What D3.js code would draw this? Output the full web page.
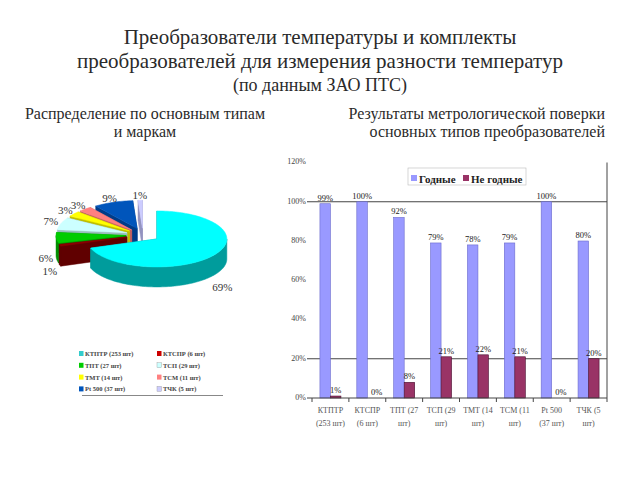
<!DOCTYPE html>
<html><head><meta charset="utf-8">
<script src="https://cdn.jsdelivr.net/npm/d3@7"></script>
<style>body{margin:0;background:#fff}svg{display:block}</style>
</head><body>
<svg id="c" width="640" height="480" font-family="'Liberation Serif', 'Times New Roman', Tinos, 'DejaVu Serif', serif"></svg>
<script>
// ---- data ----
const pieCategories = ["КТПТР (253 шт)","КТСПР (6 шт)","ТПТ (27 шт)","ТСП (29 шт)","ТМТ (14 шт)","ТСМ (11 шт)","Pt 500 (37 шт)","ТЧК (5 шт)"];
const piePercents = [69, 1, 6, 7, 3, 3, 9, 1];
const pieTopColors = ["#00FFFF","#8B0000","#00CC00","#CCFFFF","#FFFF00","#FF8080","#0055BB","#CCCCFF"];
const pieSideColors = ["#009C9C","#600000","#008F00","#99BDBD","#BFBF00","#C06060","#003C88","#9393C0"];
const pieLegendColors = ["#33CCCC","#CC0000","#00CC00","#CCFFFF","#FFFF00","#FF8080","#0055BB","#CCCCFF"];

const barCategories = [["КТПТР","(253 шт)"],["КТСПР","(6 шт)"],["ТПТ (27","шт)"],["ТСП (29","шт)"],["ТМТ (14","шт)"],["ТСМ (11","шт)"],["Pt 500","(37 шт)"],["ТЧК (5","шт)"]];
const goodValues = [99, 100, 92, 79, 78, 79, 100, 80];
const badValues  = [1, 0, 8, 21, 22, 21, 0, 20];
const seriesNames = ["Годные","Не годные"];
const seriesColors = ["#9999FF","#993366"];
const yTicks = [0, 20, 40, 60, 80, 100, 120];

const svg = d3.select("#c");

// ---- titles ----
const T = svg.append("g").attr("fill","#2a2a2a");
T.append("text").attr("x",320).attr("y",44).attr("text-anchor","middle").attr("font-size",21).text("Преобразователи температуры и комплекты");
T.append("text").attr("x",320).attr("y",68).attr("text-anchor","middle").attr("font-size",21).text("преобразователей для измерения разности температур");
T.append("text").attr("x",320).attr("y",91).attr("text-anchor","middle").attr("font-size",18).text("(по данным ЗАО ПТС)");
T.append("text").attr("x",145).attr("y",119).attr("text-anchor","middle").attr("font-size",16).text("Распределение по основным типам");
T.append("text").attr("x",145).attr("y",137).attr("text-anchor","middle").attr("font-size",16).text("и маркам");
T.append("text").attr("x",605).attr("y",119).attr("text-anchor","end").attr("font-size",16).text("Результаты метрологической поверки");
T.append("text").attr("x",605).attr("y",137).attr("text-anchor","end").attr("font-size",16).text("основных типов преобразователей");

// ---- 3D pie ----
const CX = 143, CY = 235, RX = 70, RY = 28, DEPTH = 20, EXPL = 17, K = RY / RX;
const arcs = d3.pie().sort(null).startAngle(0).endAngle(2*Math.PI)(piePercents);
const P = (c, a, dy=0) => [c[0] + RX*Math.sin(a), c[1] - RY*Math.cos(a) + dy];
function arcPts(c, a0, a1, dy=0){
  const n = Math.max(2, Math.ceil(Math.abs(a1-a0)/0.03));
  return d3.range(n+1).map(i => P(c, a0 + (a1-a0)*i/n, dy));
}
const line = d3.line();
const slices = arcs.map((d,i) => {
  const m = (d.startAngle + d.endAngle)/2;
  const c = [CX + EXPL*Math.sin(m), CY - EXPL*Math.cos(m)*K];
  return {d, i, m, c};
});
const pieG = svg.append("g");
slices.slice().sort((a,b) => a.c[1] - b.c[1]).forEach(s => {
  const g = pieG.append("g");
  const {d, i, c} = s;
  const side = pieSideColors[i], top = pieTopColors[i];
  [d.startAngle, d.endAngle].forEach(a => {
    const p = P(c, a);
    g.append("path").attr("d", line([c, p, [p[0], p[1]+DEPTH], [c[0], c[1]+DEPTH]]) + "Z")
      .attr("fill", side).attr("stroke", side).attr("stroke-width", 0.5);
  });
  const s0 = Math.max(d.startAngle, Math.PI/2), s1 = Math.min(d.endAngle, 3*Math.PI/2);
  if (s1 > s0) {
    const pts = arcPts(c, s0, s1).concat(arcPts(c, s1, s0, DEPTH));
    g.append("path").attr("d", line(pts) + "Z").attr("fill", side).attr("stroke", side).attr("stroke-width", 0.5);
  }
  g.append("path").attr("d", line([c].concat(arcPts(c, d.startAngle, d.endAngle))) + "Z")
    .attr("fill", top).attr("stroke", top).attr("stroke-width", 0.5);
});
slices.forEach(s => {
  const cm = Math.cos(s.m);
  const x = s.c[0] + 1.15*RX*Math.sin(s.m);
  const y = s.c[1] - 1.12*RY*cm + (cm < 0 ? DEPTH + 20*(-cm) : 0);
  pieG.append("text").attr("x", x).attr("y", y).attr("text-anchor","middle").attr("dominant-baseline","middle")
    .attr("font-size", 11).attr("fill","#333").text(piePercents[s.i] + "%");
});
// pie legend
const lg = svg.append("g");
pieCategories.forEach((name, i) => {
  const col = i % 2, row = Math.floor(i / 2);
  const x = col === 0 ? 79 : 157, y = 354 + row * 11.8;
  lg.append("rect").attr("x", x).attr("y", y - 3).attr("width", 4.5).attr("height", 5)
    .attr("fill", pieLegendColors[i]).attr("stroke", i===3||i===7 ? "#999" : "none").attr("stroke-width",0.4);
  lg.append("text").attr("x", x + 6).attr("y", y + 2).attr("font-size", 6.5).attr("font-weight","bold").attr("fill","#444").text(name);
});
lg.append("line").attr("x1",82).attr("x2",223).attr("y1",395.5).attr("y2",395.5).attr("stroke","#888").attr("stroke-width",1);

// ---- bar chart ----
const L = 312, R = 607, Y0 = 398, YT = 162.5;
const x0 = d3.scaleBand().domain(d3.range(barCategories.length)).range([L, R]).padding(0);
const bw = x0.bandwidth() * 0.285;
const y = d3.scaleLinear().domain([0, 120]).range([Y0, YT]);
const bg = svg.append("g");
[20, 100].forEach(v => bg.append("line").attr("x1", L - 5).attr("x2", R).attr("y1", y(v)).attr("y2", y(v)).attr("stroke","#444").attr("stroke-width",1));
bg.append("line").attr("x1", R).attr("x2", R).attr("y1", YT).attr("y2", Y0).attr("stroke","#444");
yTicks.forEach(v => bg.append("text").attr("x", 306).attr("y", y(v)).attr("dominant-baseline","middle").attr("text-anchor","end")
  .attr("font-size", 8).attr("fill","#444").text(v + "%"));
const series = [goodValues, badValues];
series.forEach((vals, si) => {
  vals.forEach((v, i) => {
    const cx = x0(i) + x0.bandwidth()/2;
    const bx = cx - bw + si * bw;
    bg.append("rect").attr("x", bx).attr("y", y(v)).attr("width", bw).attr("height", Y0 - y(v))
      .attr("fill", seriesColors[si]).attr("stroke", si ? "#4a1030" : "#6b6bcc").attr("stroke-width", 0.6);
    bg.append("text").attr("x", bx + bw/2 + (v === 0 ? 4 : 0)).attr("y", y(v) - 3).attr("text-anchor","middle")
      .attr("font-size", 8.5).attr("fill","#222").text(v + "%");
  });
});
bg.append("line").attr("x1", L - 5).attr("x2", R).attr("y1", Y0).attr("y2", Y0).attr("stroke","#444");
d3.range(barCategories.length + 1).forEach(i => {
  const xx = L + i * x0.bandwidth();
  bg.append("line").attr("x1", xx).attr("x2", xx).attr("y1", Y0).attr("y2", Y0 + 4).attr("stroke","#444");
});
barCategories.forEach((lines, i) => {
  const cx = x0(i) + x0.bandwidth()/2;
  lines.forEach((t, j) => bg.append("text").attr("x", cx).attr("y", 413 + j * 13).attr("text-anchor","middle")
    .attr("font-size", 8).attr("fill","#555").text(t));
});
// bar legend
const bl = svg.append("g");
bl.append("rect").attr("x", 408).attr("y", 168).attr("width", 118).attr("height", 17).attr("fill","#fff").attr("stroke","#bbb").attr("stroke-width",0.6);
bl.append("rect").attr("x", 411).attr("y", 175).attr("width", 6).attr("height", 6).attr("fill", seriesColors[0]);
bl.append("text").attr("x", 419).attr("y", 182.5).attr("font-size", 11).attr("font-weight","bold").attr("fill","#222").text(seriesNames[0]);
bl.append("rect").attr("x", 463).attr("y", 175).attr("width", 6).attr("height", 6).attr("fill", seriesColors[1]);
bl.append("text").attr("x", 471).attr("y", 182.5).attr("font-size", 11).attr("font-weight","bold").attr("fill","#222").text(seriesNames[1]);
</script>
</body></html>
